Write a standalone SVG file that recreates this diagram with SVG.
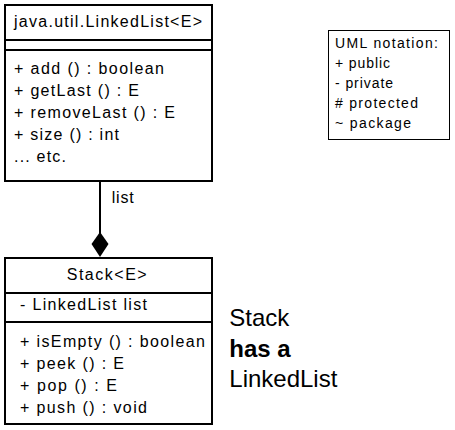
<svg xmlns="http://www.w3.org/2000/svg" width="455" height="430" viewBox="0 0 455 430">
<style>
.box{fill:#fff;stroke:#000;stroke-width:2}
.sep{stroke:#000;stroke-width:2}
.t{font-family:"Liberation Sans",Arial,sans-serif;font-size:16px;fill:#000}
.lg{font-family:"Liberation Sans",Arial,sans-serif;font-size:14px;fill:#000}
.big{font-family:"Liberation Sans",Arial,sans-serif;font-size:24px;fill:#000}
</style>
<rect width="455" height="430" fill="#fff"/>
<g id="connectors">
<line x1="100" y1="181" x2="100" y2="234" stroke="#000" stroke-width="2"/>
<polygon points="100,232 108.5,244 100,257 91.5,244" fill="#000"/>
<text class="t" x="111.7" y="203" textLength="22" lengthAdjust="spacing">list</text>
</g>
<g id="linkedlist">
<rect class="box" x="5" y="5" width="207" height="176"/>
<line class="sep" x1="5" y1="40" x2="212" y2="40"/>
<line class="sep" x1="5" y1="50" x2="212" y2="50"/>
<text class="t" x="14" y="27" textLength="188" lengthAdjust="spacing">java.util.LinkedList&lt;E&gt;</text>
<text class="t" x="14" y="74" textLength="150" lengthAdjust="spacing">+ add () : boolean</text>
<text class="t" x="14" y="96" textLength="125" lengthAdjust="spacing">+ getLast () : E</text>
<text class="t" x="14" y="118" textLength="161" lengthAdjust="spacing">+ removeLast () : E</text>
<text class="t" x="14" y="140" textLength="105" lengthAdjust="spacing">+ size () : int</text>
<text class="t" x="14" y="162" textLength="52" lengthAdjust="spacing">... etc.</text>
</g>
<g id="stack">
<rect class="box" x="5" y="258" width="207" height="166"/>
<line class="sep" x1="5" y1="293" x2="212" y2="293"/>
<line class="sep" x1="5" y1="322" x2="212" y2="322"/>
<text class="t" x="66.7" y="280" textLength="80" lengthAdjust="spacing">Stack&lt;E&gt;</text>
<text class="t" x="20" y="310" textLength="127" lengthAdjust="spacing">- LinkedList list</text>
<text class="t" x="20" y="347" textLength="185" lengthAdjust="spacing">+ isEmpty () : boolean</text>
<text class="t" x="20" y="369" textLength="104" lengthAdjust="spacing">+ peek () : E</text>
<text class="t" x="20" y="391" textLength="97" lengthAdjust="spacing">+ pop () : E</text>
<text class="t" x="20" y="413" textLength="127" lengthAdjust="spacing">+ push () : void</text>
</g>
<g id="legend">
<rect x="328.5" y="30.5" width="121" height="109" fill="#fff" stroke="#000" stroke-width="1"/>
<text class="lg" x="335" y="48.3" textLength="103" lengthAdjust="spacing">UML notation:</text>
<text class="lg" x="335" y="68.3" textLength="55" lengthAdjust="spacing">+ public</text>
<text class="lg" x="335" y="88.3" textLength="58" lengthAdjust="spacing">- private</text>
<text class="lg" x="335" y="108.3" textLength="83" lengthAdjust="spacing"># protected</text>
<text class="lg" x="335" y="128.3" textLength="76" lengthAdjust="spacing">~ package</text>
</g>
<g id="caption">
<text class="big" x="229.3" y="326">Stack</text>
<text class="big" x="229.3" y="356.7" font-weight="bold">has a</text>
<text class="big" x="229.3" y="386.7">LinkedList</text>
</g>
</svg>
